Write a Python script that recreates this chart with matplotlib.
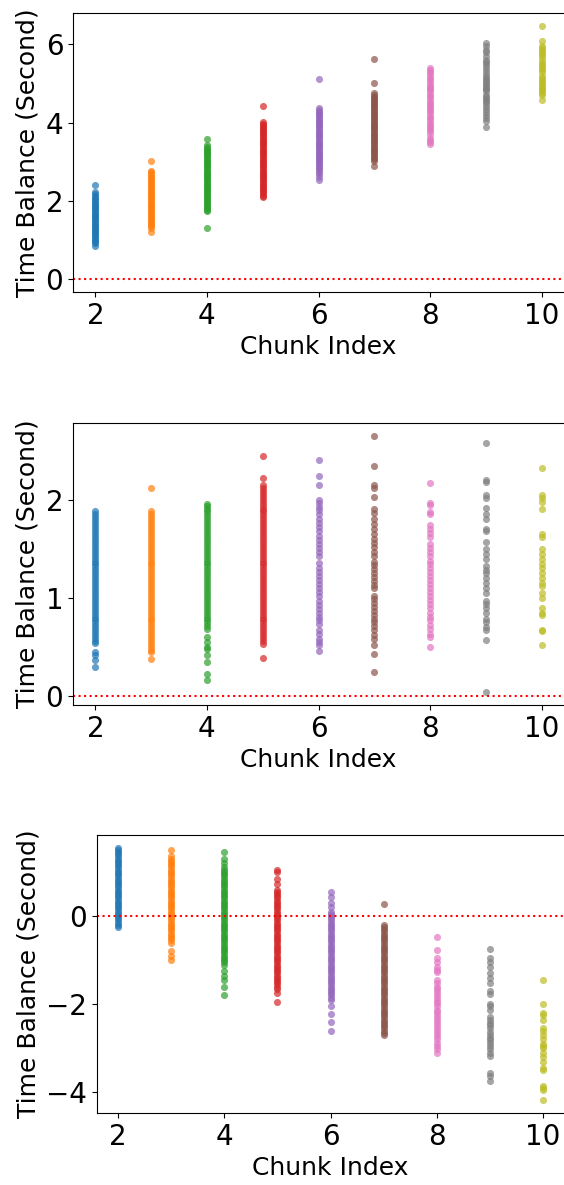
import numpy as np
import matplotlib.pyplot as plt

chunks = [2, 3, 4, 5, 6, 7, 8, 9, 10]

# panel 1: time balance per chunk index
p1 = {
    2: [2.40, 2.22, 2.18, 2.13, 2.08, 2.04, 2.00, 1.96, 1.92, 1.88, 1.84, 1.80, 1.76, 1.72, 1.68,
        1.64, 1.60, 1.56, 1.52, 1.48, 1.44, 1.40, 1.36, 1.32, 1.28, 1.24, 1.20, 1.16, 1.12, 1.08,
        1.04, 1.00, 0.96, 0.92, 0.86],
    3: [3.02, 2.78, 2.73, 2.68, 2.64, 2.60, 2.56, 2.52, 2.48, 2.44, 2.40, 2.36, 2.32, 2.28, 2.24,
        2.20, 2.16, 2.12, 2.08, 2.04, 2.00, 1.96, 1.92, 1.88, 1.84, 1.80, 1.76, 1.72, 1.68, 1.64,
        1.60, 1.56, 1.52, 1.48, 1.44, 1.40, 1.35, 1.30, 1.22],
    4: [3.58, 3.42, 3.38, 3.34, 3.30, 3.26, 3.22, 3.18, 3.14, 3.10, 3.06, 3.02, 2.98, 2.94, 2.90,
        2.86, 2.82, 2.78, 2.74, 2.70, 2.66, 2.62, 2.58, 2.54, 2.50, 2.46, 2.42, 2.38, 2.34, 2.30,
        2.26, 2.22, 2.18, 2.14, 2.10, 2.06, 2.02, 1.98, 1.94, 1.90, 1.86, 1.82, 1.78, 1.74, 1.32],
    5: [4.42, 4.02, 3.98, 3.94, 3.90, 3.86, 3.82, 3.78, 3.74, 3.70, 3.66, 3.62, 3.58, 3.54, 3.50,
        3.46, 3.42, 3.38, 3.34, 3.30, 3.26, 3.22, 3.18, 3.14, 3.10, 3.06, 3.02, 2.98, 2.94, 2.90,
        2.86, 2.82, 2.78, 2.74, 2.70, 2.66, 2.62, 2.58, 2.54, 2.50, 2.46, 2.42, 2.38, 2.34, 2.30,
        2.26, 2.22, 2.18, 2.14, 2.10],
    6: [5.12, 4.38, 4.33, 4.28, 4.24, 4.20, 4.16, 4.12, 4.08, 4.04, 4.00, 3.96, 3.92, 3.88, 3.84,
        3.80, 3.76, 3.72, 3.68, 3.64, 3.60, 3.56, 3.52, 3.48, 3.44, 3.40, 3.36, 3.32, 3.28, 3.24,
        3.20, 3.16, 3.12, 3.08, 3.04, 3.00, 2.96, 2.92, 2.88, 2.84, 2.80, 2.75, 2.70, 2.62, 2.55],
    7: [5.62, 5.02, 4.75, 4.71, 4.67, 4.63, 4.59, 4.55, 4.51, 4.47, 4.43, 4.39, 4.35, 4.31, 4.27,
        4.23, 4.19, 4.15, 4.11, 4.07, 4.03, 3.99, 3.95, 3.91, 3.87, 3.83, 3.79, 3.75, 3.71, 3.67,
        3.63, 3.59, 3.55, 3.51, 3.47, 3.43, 3.39, 3.35, 3.31, 3.27, 3.23, 3.19, 3.15, 3.11, 3.07,
        3.03, 2.90],
    8: [5.40, 5.35, 5.30, 5.24, 5.18, 5.12, 5.06, 5.00, 4.95, 4.90, 4.85, 4.80, 4.74, 4.68, 4.62,
        4.56, 4.50, 4.45, 4.40, 4.35, 4.30, 4.24, 4.18, 4.12, 4.06, 4.00, 3.95, 3.90, 3.85, 3.80,
        3.70, 3.62, 3.56, 3.50, 3.45],
    9: [6.05, 5.95, 5.85, 5.80, 5.70, 5.60, 5.55, 5.50, 5.42, 5.35, 5.28, 5.20, 5.15, 5.10, 5.05,
        5.00, 4.95, 4.90, 4.85, 4.80, 4.72, 4.65, 4.60, 4.55, 4.50, 4.42, 4.35, 4.28, 4.20, 4.12,
        4.05, 3.88],
    10: [6.48, 6.10, 5.95, 5.90, 5.85, 5.80, 5.75, 5.70, 5.62, 5.55, 5.50, 5.45, 5.40, 5.35, 5.30,
         5.20, 5.15, 5.10, 5.05, 5.00, 4.95, 4.90, 4.85, 4.80, 4.75, 4.70, 4.58],
}

# panel 2
p2 = {
    2: [1.88, 1.85, 1.82, 1.79, 1.76, 1.73, 1.70, 1.67, 1.64, 1.61, 1.58, 1.55, 1.52, 1.49, 1.46,
        1.43, 1.40, 1.37, 1.34, 1.31, 1.28, 1.25, 1.22, 1.19, 1.16, 1.13, 1.10, 1.07, 1.04, 1.01,
        0.98, 0.95, 0.92, 0.89, 0.86, 0.83, 0.80, 0.77, 0.74, 0.71, 0.68, 0.65, 0.62, 0.59, 0.56,
        0.54, 0.45, 0.42, 0.37, 0.30],
    3: [2.12, 1.88, 1.85, 1.82, 1.79, 1.76, 1.73, 1.70, 1.67, 1.64, 1.61, 1.58, 1.55, 1.52, 1.49,
        1.46, 1.43, 1.40, 1.37, 1.34, 1.31, 1.28, 1.25, 1.22, 1.19, 1.16, 1.13, 1.10, 1.07, 1.04,
        1.01, 0.98, 0.95, 0.92, 0.89, 0.86, 0.83, 0.80, 0.77, 0.74, 0.71, 0.68, 0.65, 0.62, 0.59,
        0.56, 0.53, 0.50, 0.47, 0.45, 0.38],
    4: [1.96, 1.94, 1.91, 1.88, 1.85, 1.82, 1.79, 1.76, 1.73, 1.70, 1.67, 1.64, 1.61, 1.58, 1.55,
        1.52, 1.49, 1.46, 1.43, 1.40, 1.37, 1.34, 1.31, 1.28, 1.25, 1.22, 1.19, 1.16, 1.13, 1.10,
        1.07, 1.04, 1.01, 0.98, 0.95, 0.92, 0.89, 0.86, 0.83, 0.80, 0.77, 0.74, 0.71, 0.68, 0.60,
        0.55, 0.50, 0.48, 0.42, 0.35, 0.23, 0.16],
    5: [2.44, 2.22, 2.15, 2.12, 2.09, 2.06, 2.03, 2.00, 1.97, 1.94, 1.91, 1.88, 1.85, 1.82, 1.79,
        1.76, 1.73, 1.70, 1.67, 1.64, 1.61, 1.58, 1.55, 1.52, 1.49, 1.46, 1.43, 1.40, 1.37, 1.34,
        1.31, 1.28, 1.25, 1.22, 1.19, 1.16, 1.13, 1.10, 1.07, 1.04, 1.01, 0.98, 0.95, 0.92, 0.89,
        0.86, 0.83, 0.80, 0.77, 0.74, 0.71, 0.68, 0.65, 0.62, 0.59, 0.56, 0.53, 0.39],
    6: [2.40, 2.24, 2.15, 2.00, 1.97, 1.93, 1.89, 1.85, 1.80, 1.76, 1.72, 1.68, 1.63, 1.59, 1.55,
        1.51, 1.47, 1.43, 1.36, 1.30, 1.26, 1.22, 1.18, 1.14, 1.10, 1.06, 1.02, 0.97, 0.93, 0.89,
        0.85, 0.81, 0.77, 0.73, 0.67, 0.63, 0.58, 0.55, 0.52, 0.46],
    7: [2.65, 2.34, 2.15, 2.12, 2.03, 1.90, 1.86, 1.80, 1.75, 1.70, 1.65, 1.60, 1.56, 1.52, 1.47,
        1.43, 1.37, 1.33, 1.29, 1.25, 1.21, 1.17, 1.13, 1.10, 1.02, 0.99, 0.95, 0.91, 0.87, 0.83,
        0.79, 0.75, 0.71, 0.67, 0.62, 0.58, 0.52, 0.43, 0.25],
    8: [2.17, 1.97, 1.95, 1.87, 1.85, 1.74, 1.70, 1.66, 1.62, 1.55, 1.51, 1.47, 1.43, 1.38, 1.34,
        1.30, 1.26, 1.22, 1.18, 1.14, 1.10, 1.06, 1.02, 0.98, 0.94, 0.90, 0.85, 0.81, 0.77, 0.72,
        0.68, 0.63, 0.60, 0.50],
    9: [2.58, 2.20, 2.18, 2.05, 2.02, 1.92, 1.85, 1.80, 1.70, 1.68, 1.57, 1.50, 1.45, 1.40, 1.32,
        1.28, 1.25, 1.20, 1.15, 1.10, 1.05, 0.97, 0.94, 0.90, 0.85, 0.78, 0.75, 0.70, 0.67, 0.57,
        0.04],
    10: [2.32, 2.05, 2.02, 1.98, 1.91, 1.65, 1.62, 1.50, 1.45, 1.40, 1.35, 1.30, 1.25, 1.20, 1.15,
         1.12, 1.05, 1.00, 0.90, 0.85, 0.83, 0.67, 0.66, 0.52],
}

# panel 3
p3 = {
    2: [1.55, 1.50, 1.45, 1.40, 1.35, 1.30, 1.25, 1.20, 1.15, 1.10, 1.05, 1.00, 0.95, 0.90, 0.85,
        0.80, 0.75, 0.70, 0.65, 0.60, 0.55, 0.50, 0.45, 0.40, 0.35, 0.30, 0.25, 0.20, 0.15, 0.10,
        0.05, 0.00, -0.05, -0.10, -0.15, -0.20, -0.25],
    3: [1.50, 1.35, 1.30, 1.25, 1.20, 1.15, 1.10, 1.05, 1.00, 0.95, 0.90, 0.85, 0.80, 0.75, 0.70,
        0.65, 0.60, 0.55, 0.50, 0.45, 0.40, 0.35, 0.30, 0.25, 0.20, 0.15, 0.10, 0.05, 0.00, -0.05,
        -0.10, -0.15, -0.20, -0.25, -0.30, -0.35, -0.40, -0.45, -0.50, -0.55, -0.62, -0.80, -0.90,
        -1.00],
    4: [1.45, 1.30, 1.20, 1.10, 1.05, 1.00, 0.95, 0.90, 0.85, 0.80, 0.75, 0.70, 0.65, 0.60, 0.55,
        0.50, 0.45, 0.40, 0.35, 0.30, 0.25, 0.20, 0.15, 0.10, 0.05, 0.00, -0.05, -0.10, -0.15,
        -0.20, -0.25, -0.30, -0.35, -0.40, -0.45, -0.50, -0.55, -0.60, -0.65, -0.70, -0.75, -0.80,
        -0.85, -0.90, -0.95, -1.00, -1.05, -1.10, -1.25, -1.35, -1.45, -1.60, -1.78],
    5: [1.05, 1.00, 0.85, 0.72, 0.60, 0.55, 0.50, 0.45, 0.40, 0.35, 0.30, 0.25, 0.20, 0.15, 0.10,
        0.05, 0.00, -0.05, -0.10, -0.15, -0.20, -0.25, -0.30, -0.35, -0.40, -0.45, -0.50, -0.55,
        -0.60, -0.65, -0.70, -0.75, -0.80, -0.85, -0.90, -0.95, -1.00, -1.05, -1.10, -1.15, -1.20,
        -1.25, -1.30, -1.35, -1.40, -1.45, -1.50, -1.55, -1.60, -1.65, -1.75, -1.95],
    6: [0.55, 0.42, 0.30, 0.20, 0.10, 0.05, 0.00, -0.05, -0.10, -0.15, -0.20, -0.25, -0.30,
        -0.35, -0.40, -0.45, -0.50, -0.55, -0.60, -0.65, -0.70, -0.75, -0.80, -0.85, -0.90, -0.95,
        -1.00, -1.05, -1.10, -1.15, -1.20, -1.25, -1.30, -1.35, -1.40, -1.45, -1.50, -1.55, -1.60,
        -1.65, -1.70, -1.75, -1.80, -1.85, -1.90, -2.05, -2.22, -2.40, -2.60],
    7: [0.28, -0.20, -0.25, -0.30, -0.35, -0.40, -0.45, -0.50, -0.55, -0.60, -0.65, -0.70,
        -0.75, -0.80, -0.85, -0.90, -0.95, -1.00, -1.05, -1.10, -1.15, -1.20, -1.25, -1.30, -1.35,
        -1.40, -1.45, -1.50, -1.55, -1.60, -1.65, -1.70, -1.75, -1.80, -1.85, -1.90, -1.95, -2.00,
        -2.05, -2.10, -2.15, -2.20, -2.25, -2.30, -2.35, -2.40, -2.45, -2.50, -2.55, -2.60, -2.65,
        -2.70],
    8: [-0.48, -0.77, -0.95, -1.05, -1.15, -1.22, -1.28, -1.45, -1.52, -1.60, -1.66, -1.72,
        -1.78, -1.85, -1.92, -1.98, -2.05, -2.12, -2.18, -2.25, -2.32, -2.38, -2.45, -2.52, -2.58,
        -2.65, -2.72, -2.80, -2.88, -2.95, -3.02, -3.10],
    9: [-0.75, -0.95, -1.05, -1.15, -1.30, -1.40, -1.52, -1.70, -1.76, -2.00, -2.05, -2.12,
        -2.30, -2.36, -2.42, -2.48, -2.55, -2.62, -2.70, -2.76, -2.82, -2.88, -2.95, -3.02, -3.10,
        -3.18, -3.55, -3.62, -3.75],
    10: [-1.45, -2.00, -2.20, -2.25, -2.35, -2.55, -2.60, -2.70, -2.80, -2.90, -2.95, -3.00,
         -3.10, -3.20, -3.30, -3.45, -3.50, -3.85, -3.90, -3.95, -4.18],
}

panels = [p1, p2, p3]

fig = plt.figure(figsize=(5.64, 11.85), dpi=100)
rects = [
    [73 / 564, 1 - 292 / 1185, 491 / 564, 279 / 1185],
    [73 / 564, 1 - 705 / 1185, 491 / 564, 282 / 1185],
    [97 / 564, 1 - 1113 / 1185, 467 / 564, 278 / 1185],
]

for rect, data in zip(rects, panels):
    ax = fig.add_axes(rect)
    for i, c in enumerate(chunks):
        vals = data[c]
        ax.scatter([c] * len(vals), vals, s=26, color='C%d' % i, alpha=0.7,
                   linewidths=0)
    ax.axhline(0, color='red', linestyle=':', linewidth=1.5)
    ax.set_xticks([2, 4, 6, 8, 10])
    ax.tick_params(labelsize=20)
    ax.set_xlabel('Chunk Index', fontsize=18)
    ax.set_ylabel('Time Balance (Second)', fontsize=18)
    ax.spines['right'].set_visible(False)

fig.savefig('out.png', dpi=100)
